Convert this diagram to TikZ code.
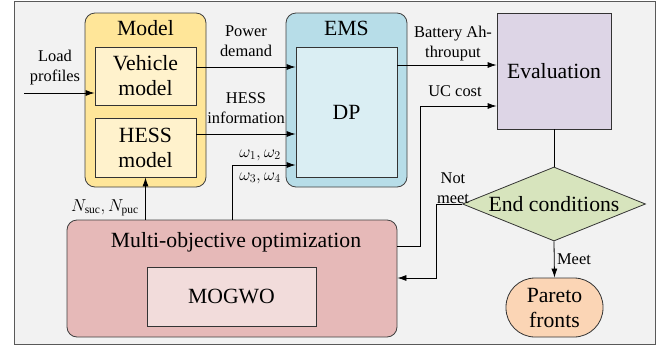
\documentclass[tikz,border=0pt]{standalone}
\usepackage{amsmath}
\usepackage{fontspec}
\setmainfont{Liberation Serif}
\usetikzlibrary{arrows.meta,shapes.geometric}
\tikzset{>={Latex[length=9pt,width=6pt]}}
\definecolor{bgc}{HTML}{F2F2F2}
\definecolor{modelc}{HTML}{FFE699}
\definecolor{modelin}{HTML}{FFF2CC}
\definecolor{emsc}{HTML}{B7DDE8}
\definecolor{emsin}{HTML}{DAEEF3}
\definecolor{evalc}{HTML}{DDD5E6}
\definecolor{condc}{HTML}{D7E4BD}
\definecolor{parc}{HTML}{FBD5B5}
\definecolor{mooc}{HTML}{E6B9B8}
\definecolor{mooin}{HTML}{F2DCDB}
\newcommand{\bigtxt}{\rmfamily\fontsize{21.7}{25}\selectfont}
\newcommand{\lbltxt}{\rmfamily\fontsize{16.4}{20}\selectfont}
\tikzset{
  group/.style={draw=black!75, rounded corners=10pt, inner sep=0pt},
  block/.style={draw=black!80, inner sep=0pt, align=center, font=\bigtxt},
  title/.style={inner sep=0pt, font=\bigtxt},
  lbl/.style={inner sep=0pt, align=center, font=\lbltxt}
}

\begin{document}
\begin{tikzpicture}[x=1pt,y=-1pt,line width=0.8pt]
            \useasboundingbox (0,0) rectangle (657,349);
            \node[draw=black!65, fill=bgc, inner sep=0pt, minimum width=641pt, minimum height=343pt] (frame) at (334.5,172.5) {};
            % model
            \node[group, fill=modelc, minimum width=121pt, minimum height=174pt] (model) at (145.5,100) {};
            \node[title] (modelt) at (145.5,28) {Model};
            \node[block, fill=modelin, minimum width=101pt, minimum height=58pt] (vm) at (145.5,76) {Vehicle\\model};
            \node[block, fill=modelin, minimum width=101pt, minimum height=59pt] (hm) at (145.5,147.5) {HESS\\model};
            % EMS
            \node[group, fill=emsc, minimum width=121pt, minimum height=174pt] (ems) at (346.5,100) {};
            \node[title] (emst) at (346.5,28) {EMS};
            \node[block, fill=emsin, minimum width=101pt, minimum height=130pt] (dp) at (346.5,112) {DP};
            % evaluation
            \node[block, fill=evalc, minimum width=114pt, minimum height=116pt] (eval) at (554,71) {Evaluation};
            \node[diamond, draw=black!80, fill=condc, aspect=2.47, inner sep=0pt, minimum width=183pt, minimum height=74pt, font=\bigtxt] (cond) at (554,204) {End conditions};
            \node[block, fill=parc, rounded corners=29pt, minimum width=97pt, minimum height=59pt] (par) at (554.5,307.5) {Pareto\\fronts};
            % optimization
            \node[group, fill=mooc, minimum width=330pt, minimum height=117pt] (moo) at (232,278.5) {};
            \node[title] (moot) at (236,242) {Multi-objective optimization};
            \node[block, fill=mooin, minimum width=169pt, minimum height=59pt] (mogwo) at (231.5,296.5) {MOGWO};
            % connectors
            \coordinate (load) at (24,93);
            \draw[->] (load) -- (load -| vm.west);
            \node[lbl] (loadl) at (55,68) {Load\\profiles};
            \coordinate (pd) at ([yshift=9pt]vm.east);
            \draw[->] (pd) -- (pd -| dp.west);
            \node[lbl] (pdl) at (246,41) {Power\\demand};
            \coordinate (hi) at ([yshift=13.5pt]hm.east);
            \draw[->] (hi) -- (hi -| dp.west);
            \node[lbl] (hil) at (246,108) {HESS\\information};
            \coordinate (wt) at ([yshift=-53pt]dp.west);
            \draw[->] (moo.north) |- (wt);
            \node[lbl] (w12) at (260,155) {$\omega_1,\omega_2$};
            \node[lbl] (w34) at (260,178) {$\omega_3,\omega_4$};
            \draw[->] (hm.south |- moo.north) -- (hm.south);
            \node[lbl] (nl) at (105,208) {$N_{\mathrm{suc}},N_{\mathrm{puc}}$};
            \coordinate (ah) at ([yshift=47pt]dp.east);
            \draw[->] (ah) -- (ah -| eval.west);
            \node[lbl] (ahl) at (453,44) {Battery Ah-\\throuput};
            \coordinate (uc) at ([yshift=32.5pt]moo.east);
            \coordinate (ucb) at (420,106);
            \draw[->] (uc) -| (ucb) -- (ucb -| eval.west);
            \node[lbl] (ucl) at (455,91) {UC cost};
            \draw (eval.south) -- (cond.north);
            \coordinate (nm) at (436,278);
            \draw[->] (cond.west) -| (nm) -- (nm -| moo.east);
            \node[lbl] (nml) at (453,188) {Not\\meet};
            \draw[->] (cond.south) -- (par.north);
            \node[lbl] (ml) at (574,259) {Meet};
        \end{tikzpicture}
\end{document}
